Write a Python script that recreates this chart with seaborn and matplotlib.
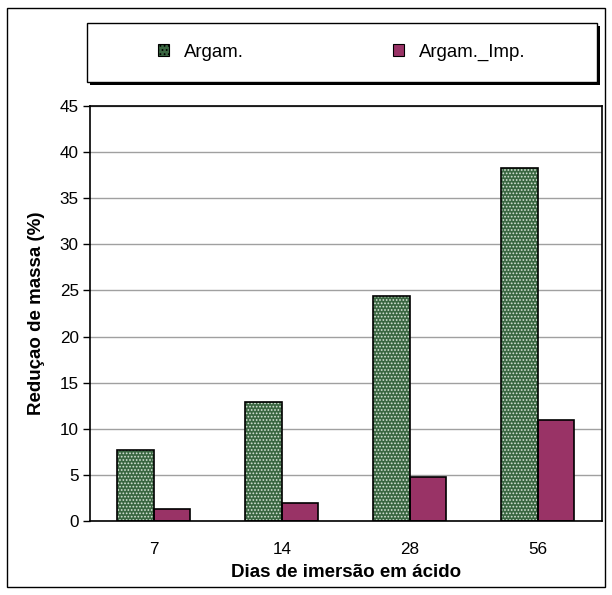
import matplotlib
matplotlib.use('Agg')
import matplotlib.pyplot as plt
import seaborn as sns
import pandas as pd
from matplotlib.patches import Rectangle, Patch

dias = ['7', '14', '28', '56']
argam = [7.7, 12.9, 24.4, 38.3]
argam_imp = [1.3, 1.9, 4.8, 11.0]
series = ['Argam.', 'Argam._Imp.']
yticks = list(range(0, 50, 5))

df = pd.DataFrame({
    'Dias': dias * 2,
    'Valor': argam + argam_imp,
    'Serie': [series[0]] * len(dias) + [series[1]] * len(dias),
})

sns.set_theme(style='white')
plt.rcParams['font.family'] = ['Liberation Sans', 'DejaVu Sans']
plt.rcParams['text.color'] = 'black'
plt.rcParams['axes.labelcolor'] = 'black'
plt.rcParams['xtick.color'] = 'black'
plt.rcParams['ytick.color'] = 'black'
plt.rcParams['hatch.linewidth'] = 0.8

green = '#3a6641'
plum = '#993366'

fig = plt.figure(figsize=(6.12, 5.95), dpi=100)
ax = fig.add_axes([0.147, 0.1244, 0.8366, 0.6974])
sns.barplot(data=df, x='Dias', y='Valor', hue='Serie', order=dias,
            hue_order=series, palette=[green, plum], width=0.57,
            saturation=1, ax=ax, legend=False)

n = len(dias)
for i, p in enumerate(list(ax.patches)):
    if i < n:
        p.set_hatch('.....')
        p.set_edgecolor('#d8e4d8')
        p.set_linewidth(0)
        bb = p.get_bbox()
        ax.add_patch(Rectangle((bb.x0, bb.y0), bb.width, bb.height,
                               fill=False, ec='black', lw=1.2, zorder=p.get_zorder() + 0.1))
    else:
        p.set_edgecolor('black')
        p.set_linewidth(1.2)

ax.set_ylim(0, 45)
ax.set_yticks(yticks)
ax.yaxis.grid(True, color='#a0a0a0', lw=1)
ax.xaxis.grid(False)
ax.set_axisbelow(True)
for s in ax.spines.values():
    s.set_color('black')
    s.set_linewidth(1.2)
ax.tick_params(axis='y', length=5, width=1, color='black', labelsize=12.3, left=True, pad=3,
               labelcolor='black')
ax.tick_params(axis='x', length=0, labelsize=12.3, pad=15, labelcolor='black')
ax.set_ylabel('Reduçao de massa (%)', fontsize=13.5, fontweight='bold', labelpad=11, color='black')
ax.set_xlabel('Dias de imersão em ácido', fontsize=13.5, fontweight='bold', labelpad=5, color='black')

# legend box with shadow
bx, by, bw, bh = 87 / 612, 1 - 82 / 595, (597 - 87) / 612, (82 - 23) / 595
fig.add_artist(Rectangle((bx + 3 / 612, by - 3 / 595), bw, bh, transform=fig.transFigure,
                         fc='black', ec='black', lw=0, zorder=1))
fig.add_artist(Rectangle((bx, by), bw, bh, transform=fig.transFigure,
                         fc='white', ec='black', lw=1, zorder=2))
handles = [Patch(facecolor=green, edgecolor='black', hatch='....', lw=0.8),
           Patch(facecolor=plum, edgecolor='black', lw=0.8)]
leg = fig.legend(handles, series, loc='center', bbox_to_anchor=(bx + bw / 2, by + bh / 2),
                 bbox_transform=fig.transFigure, ncol=2, frameon=False, fontsize=13.4,
                 columnspacing=8, handletextpad=0.8, handlelength=0.6, handleheight=0.6)
leg.set_zorder(3)
for t in leg.get_texts():
    t.set_color('black')

# outer border
fig.add_artist(Rectangle((7 / 612, 1 - 587 / 595), 598 / 612, 579 / 595, transform=fig.transFigure,
                         fill=False, ec='black', lw=1))

fig.savefig('out.png', dpi=100)
